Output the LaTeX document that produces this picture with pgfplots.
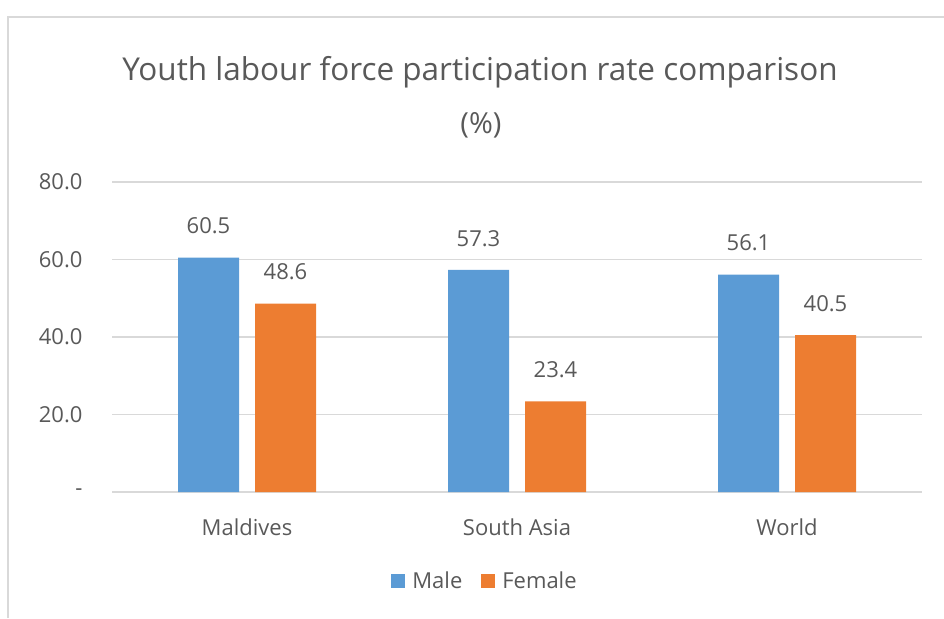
\documentclass[border=0pt]{standalone}
\usepackage{pgfplots}
\pgfplotsset{compat=1.18}
\usepackage{fontspec}
\setmainfont{Open Sans}
\definecolor{mblue}{HTML}{5B9BD5}
\definecolor{morange}{HTML}{ED7D31}
\definecolor{txt}{HTML}{595959}
\definecolor{gridc}{HTML}{D9D9D9}
\begin{document}
\begin{tikzpicture}[x=1pt,y=1pt]
\useasboundingbox (0,0) rectangle (944,618);
\draw[gridc, line width=1.3pt] (8,0) -- (8,601) -- (944,601);
\node[text=txt, font=\fontsize{31.5}{37}\selectfont] at (480,546) {Youth labour force participation rate comparison};
\node[text=txt, font=\fontsize{29}{34}\selectfont] at (481,493) {(\%)};
\begin{axis}[
  at={(112pt,126pt)}, anchor=south west,
  scale only axis, width=810pt, height=310pt,
  xmin=-0.5, xmax=2.5, ymin=0, ymax=80,
  ybar=16pt, bar width=61pt,
  axis x line*=bottom, axis y line*=left,
  y axis line style={draw=none},
  x axis line style={gridc, line width=1.3pt},
  major tick length=0pt,
  ymajorgrids, grid style={gridc, line width=1.3pt},
  ytick={0,20,40,60,80},
  yticklabels={-,20.0,40.0,60.0,80.0},
  xtick={0,1,2},
  xticklabels={Maldives,South Asia,World},
  /pgf/number format/assume math mode=true,
  ticklabel style={text=txt, font=\fontsize{22}{26}\selectfont},
  yticklabel style={xshift=-26pt},
  xticklabel style={yshift=-23pt},
  nodes near coords={\pgfmathprintnumber[fixed,fixed zerofill,precision=1]{\pgfplotspointmeta}},
  every node near coord/.append style={text=txt, font=\fontsize{22}{26}\selectfont, yshift=20pt},
  legend style={at={(0.4605,-0.287)}, anchor=center, draw=none, fill=none,
    legend columns=2, font=\fontsize{22}{26}\selectfont, text=txt,
    /tikz/every odd column/.append style={column sep=5pt},
    /tikz/every even column/.append style={column sep=17pt}},
  legend image code/.code={\fill[#1] (0pt,-7pt) rectangle (14pt,7pt);},
]
\addplot[fill=mblue, draw=none] coordinates {(0,60.5) (1,57.3) (2,56.1)};
\addplot[fill=morange, draw=none] coordinates {(0,48.6) (1,23.4) (2,40.5)};
\legend{Male,Female}
\end{axis}
\end{tikzpicture}
\end{document}
